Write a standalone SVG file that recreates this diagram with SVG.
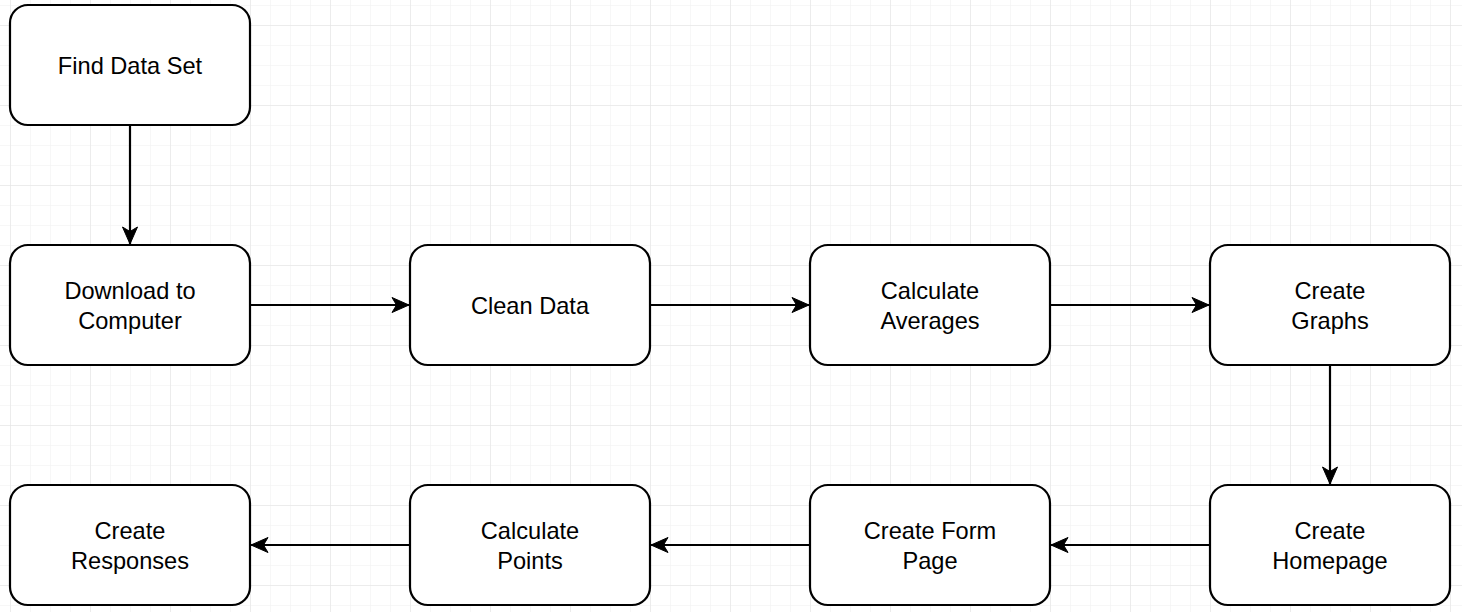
<svg xmlns="http://www.w3.org/2000/svg" width="1462" height="612" viewBox="0 0 1462 612">
<style>
.box{fill:#ffffff;stroke:#000000;stroke-width:2.2}
.lbl{font-family:"Liberation Sans",Arial,sans-serif;font-size:23.6px;fill:#000000;text-anchor:middle}
.edge{fill:none;stroke:#000000;stroke-width:2.2;marker-end:url(#arr)}
</style>
<defs>
<pattern id="minor" x="10" y="5" width="20" height="20" patternUnits="userSpaceOnUse">
<path d="M0,0 H20 M0,0 V20" fill="none" stroke="#f0f0f0" stroke-width="1"/>
</pattern>
<pattern id="major" x="10" y="25" width="80" height="80" patternUnits="userSpaceOnUse">
<path d="M0,0 H80 M0,0 V80" fill="none" stroke="#e2e2e2" stroke-width="1"/>
</pattern>
<marker id="arr" markerUnits="userSpaceOnUse" markerWidth="20" markerHeight="20" viewBox="-18 -9 20 18" refX="0" refY="0" orient="auto">
<path d="M0,0 L-17,-7.5 L-12.5,0 L-17,7.5 Z" fill="#000000" stroke="#000000" stroke-width="1"/>
</marker>
</defs>
<rect width="1462" height="612" fill="#ffffff"/>
<rect width="1462" height="612" fill="url(#minor)"/>
<rect width="1462" height="612" fill="url(#major)"/>
<g id="connectors">
<path class="edge" d="M130,125 V244"/>
<path class="edge" d="M250,305 H409"/>
<path class="edge" d="M650,305 H809"/>
<path class="edge" d="M1050,305 H1209"/>
<path class="edge" d="M1330,365 V484"/>
<path class="edge" d="M1210,545 H1051"/>
<path class="edge" d="M810,545 H651"/>
<path class="edge" d="M410,545 H251"/>
</g>
<g id="find-data-set"><rect class="box" x="10" y="5" width="240" height="120" rx="18"/><text class="lbl" x="130" y="74">Find Data Set</text></g>
<g id="download"><rect class="box" x="10" y="245" width="240" height="120" rx="18"/><text class="lbl" x="130" y="299">Download to</text><text class="lbl" x="130" y="329">Computer</text></g>
<g id="clean-data"><rect class="box" x="410" y="245" width="240" height="120" rx="18"/><text class="lbl" x="530" y="314">Clean Data</text></g>
<g id="calc-averages"><rect class="box" x="810" y="245" width="240" height="120" rx="18"/><text class="lbl" x="930" y="299">Calculate</text><text class="lbl" x="930" y="329">Averages</text></g>
<g id="create-graphs"><rect class="box" x="1210" y="245" width="240" height="120" rx="18"/><text class="lbl" x="1330" y="299">Create</text><text class="lbl" x="1330" y="329">Graphs</text></g>
<g id="create-homepage"><rect class="box" x="1210" y="485" width="240" height="120" rx="18"/><text class="lbl" x="1330" y="539">Create</text><text class="lbl" x="1330" y="569">Homepage</text></g>
<g id="create-form-page"><rect class="box" x="810" y="485" width="240" height="120" rx="18"/><text class="lbl" x="930" y="539">Create Form</text><text class="lbl" x="930" y="569">Page</text></g>
<g id="calc-points"><rect class="box" x="410" y="485" width="240" height="120" rx="18"/><text class="lbl" x="530" y="539">Calculate</text><text class="lbl" x="530" y="569">Points</text></g>
<g id="create-responses"><rect class="box" x="10" y="485" width="240" height="120" rx="18"/><text class="lbl" x="130" y="539">Create</text><text class="lbl" x="130" y="569">Responses</text></g>
</svg>
